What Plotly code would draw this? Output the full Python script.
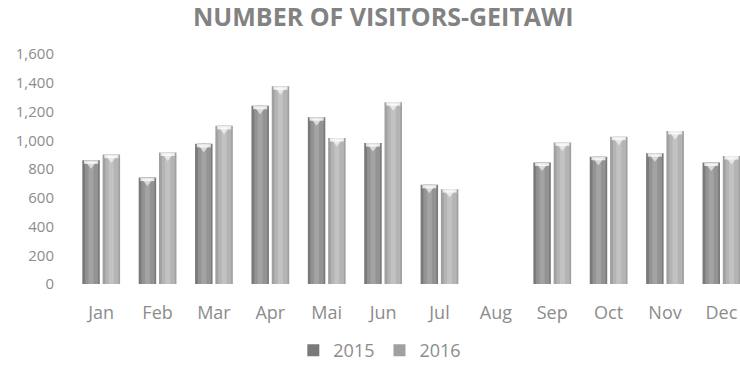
import plotly.graph_objects as go

months = ["Jan", "Feb", "Mar", "Apr", "Mai", "Jun", "Jul", "Aug", "Sep", "Oct", "Nov", "Dec"]
visitors_2015 = [860, 740, 975, 1240, 1160, 980, 690, None, 845, 885, 910, 845]
visitors_2016 = [900, 915, 1100, 1375, 1015, 1265, 660, None, 985, 1025, 1065, 890]
y_ticks = [0, 200, 400, 600, 800, 1000, 1200, 1400, 1600]

FONT = "Open Sans"
TEXT = "#8c8c8c"
Y_MAX = 1600
PLOT_H = 231  # plot height in px, used to turn a pixel inset into data units
UNIT_PER_PX = Y_MAX / PLOT_H

# Each series is drawn as a few layers in place to give a rounded, shaded column look.
series = [
    ("2015", visitors_2015, -0.335, ["#7a7a7a", "#939393", "#a3a3a3"]),
    ("2016", visitors_2016, 0.025, ["#a0a0a0", "#b4b4b4", "#c2c2c2"]),
]
BAR_W = 0.31
CAP_PX = 3.5
x_idx = list(range(len(months)))

fig = go.Figure()
for name, vals, off, shades in series:
    layers = [(0.0, BAR_W, shades[0]), (0.05, BAR_W - 0.08, shades[1]), (0.11, 0.09, shades[2])]
    for i, (inset, w, col) in enumerate(layers):
        fig.add_trace(go.Bar(
            x=x_idx, y=vals, name=name,
            offset=off + inset, width=w,
            marker=dict(color=col, line=dict(width=0)),
            showlegend=(i == 0), legendgroup=name, hoverinfo="skip",
        ))
    # pale band across the top of each column
    cap_h = CAP_PX * UNIT_PER_PX
    fig.add_trace(go.Bar(
        x=x_idx, y=[None if v is None else cap_h for v in vals],
        base=[None if v is None else v - cap_h for v in vals],
        offset=off + 0.03, width=BAR_W - 0.06,
        marker=dict(color="rgba(255,255,255,0.75)", line=dict(width=0)),
        showlegend=False, hoverinfo="skip",
    ))
    # rounded highlight dipping below the band
    fig.add_trace(go.Scatter(
        x=[i + off + BAR_W / 2 for i in x_idx],
        y=[None if v is None else v - 4 * UNIT_PER_PX for v in vals],
        mode="markers", showlegend=False, hoverinfo="skip",
        marker=dict(symbol="triangle-down", size=9, color="rgba(255,255,255,0.6)",
                    line=dict(width=0)),
    ))

fig.update_layout(
    width=740, height=369,
    margin=dict(l=73, r=0, t=54, b=84),
    paper_bgcolor="white", plot_bgcolor="white",
    barmode="overlay",
    title=dict(text="<b>NUMBER OF VISITORS-GEITAWI</b>", x=0.518, xanchor="center",
               y=0.953, yanchor="middle", font=dict(family=FONT, size=25, color="#828282")),
    font=dict(family=FONT, color=TEXT),
    xaxis=dict(range=[-0.5, 11.33], tickmode="array", tickvals=x_idx,
               ticktext=months, showgrid=False, zeroline=False, showline=False,
               ticks="", ticklabelstandoff=16, tickfont=dict(size=18, color=TEXT)),
    yaxis=dict(range=[0, Y_MAX], tickvals=y_ticks, tickformat=",", showgrid=False,
               zeroline=False, showline=False, ticks="", ticklabelstandoff=18,
               tickfont=dict(size=15, color=TEXT)),
    legend=dict(orientation="h", x=0.46, xanchor="center", y=-0.29, yanchor="middle",
                font=dict(size=18, color=TEXT), itemwidth=30, traceorder="normal"),
)

fig.write_html("out.html")
